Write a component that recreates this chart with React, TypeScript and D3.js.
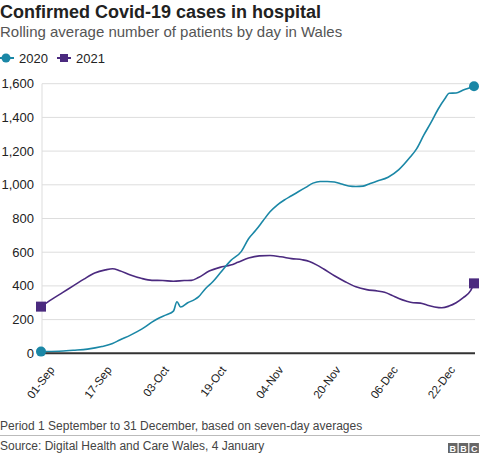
import React from "react";
import * as d3 from "d3";

// Days since 1 September 2020 and rolling averages
const teal2020Days = [0, 5, 9, 13, 17, 20, 22, 25, 27, 29, 31, 33, 35, 37, 38, 39, 41, 43, 44, 46, 48, 50, 53, 56, 58, 60, 62, 64, 66, 68, 70, 72, 74, 76, 78, 80, 82, 84, 86, 88, 90, 92, 94, 97, 100, 103, 105, 107, 109, 111, 113, 114, 116, 118, 121];
const teal2020Values = [10, 12, 18, 25, 40, 58, 79, 108, 130, 155, 185, 210, 228, 250, 306, 275, 300, 320, 335, 385, 425, 475, 550, 605, 680, 730, 785, 840, 880, 910, 935, 960, 985, 1010, 1020, 1020, 1017, 1005, 993, 990, 992, 1008, 1022, 1045, 1090, 1160, 1215, 1296, 1370, 1450, 1515, 1543, 1545, 1562, 1585];

const purple2021Days = [0, 3, 6, 9, 12, 15, 18, 20, 22, 25, 28, 31, 34, 37, 40, 42, 44, 47, 50, 53, 55, 58, 61, 64, 67, 70, 73, 75, 77, 79, 82, 85, 88, 91, 94, 96, 98, 100, 102, 104, 106, 108, 110, 112, 114, 116, 118, 120, 121];
const purple2021Values = [277, 320, 360, 400, 440, 476, 495, 502, 490, 465, 445, 433, 432, 428, 432, 433, 450, 488, 510, 524, 540, 565, 578, 580, 573, 562, 555, 545, 525, 500, 460, 425, 395, 378, 370, 362, 345, 325, 310, 300, 298, 285, 275, 270, 280, 300, 330, 370, 415];

const yTicks = [0, 200, 400, 600, 800, 1000, 1200, 1400, 1600];
const xTickDays = [0, 16, 32, 48, 64, 80, 96, 112];

const legendLabels = ["2020", "2021"];
const TEAL = "#1a87a6";
const PURPLE = "#4b2a7f";
const FONT = "'Liberation Sans', Arial, Helvetica, sans-serif";

const start = new Date(2020, 8, 1);
const toDate = (d: number) => d3.timeDay.offset(start, d);

export default function App() {
  const W = 480, H = 456;
  const x = d3.scaleTime().domain([start, toDate(121)]).range([41, 474]);
  const y = d3.scaleLinear().domain([0, 1600]).range([353.3, 83.7]);
  const fmtY = d3.format(",");
  const fmtX = d3.timeFormat("%d-%b");

  const line = d3
    .line<[number, number]>()
    .x((p) => x(toDate(p[0])))
    .y((p) => y(p[1]))
    .curve(d3.curveMonotoneX);

  const teal = teal2020Days.map((d, i) => [d, teal2020Values[i]] as [number, number]);
  const purple = purple2021Days.map((d, i) => [d, purple2021Values[i]] as [number, number]);
  const tFirst = teal[0], tLast = teal[teal.length - 1];
  const pFirst = purple[0], pLast = purple[purple.length - 1];

  return (
    <svg width={W} height={H} style={{ position: "absolute", left: 0, top: 0, background: "#fff" }} fontFamily={FONT}>
      <rect width={W} height={H} fill="#fff" />
      <text x={0} y={18} fontSize={18} fontWeight="bold" fill="#222">Confirmed Covid-19 cases in hospital</text>
      <text x={0} y={37} fontSize={15} fill="#555">Rolling average number of patients by day in Wales</text>

      {/* legend */}
      <g>
        <line x1={0} x2={14} y1={58} y2={58} stroke={TEAL} strokeWidth={2} />
        <circle cx={6} cy={58} r={4.5} fill={TEAL} />
        <text x={19} y={63} fontSize={13} fill="#222">{legendLabels[0]}</text>
        <line x1={57} x2={71} y1={58} y2={58} stroke={PURPLE} strokeWidth={2} />
        <rect x={60} y={54} width={8} height={8} fill={PURPLE} />
        <text x={76} y={63} fontSize={13} fill="#222">{legendLabels[1]}</text>
      </g>

      {/* grid */}
      {yTicks.map((t) => (
        <g key={t}>
          {t > 0 && <line x1={42} x2={475} y1={y(t)} y2={y(t)} stroke="#dddddd" strokeWidth={1} />}
          <text x={34} y={y(t) + 4.5} fontSize={13} textAnchor="end" fill="#222">{fmtY(t)}</text>
        </g>
      ))}
      <line x1={42} x2={42} y1={y(1600)} y2={y(0)} stroke="#dddddd" strokeWidth={1} />

      {/* lines */}
      <path d={line(purple) || ""} fill="none" stroke={PURPLE} strokeWidth={1.6} />
      <path d={line(teal) || ""} fill="none" stroke={TEAL} strokeWidth={1.6} />

      {/* axis */}
      <line x1={41} x2={475} y1={y(0)} y2={y(0)} stroke="#333" strokeWidth={2} />

      {/* markers */}
      <circle cx={x(toDate(tFirst[0]))} cy={y(tFirst[1])} r={5} fill={TEAL} />
      <circle cx={x(toDate(tLast[0]))} cy={y(tLast[1])} r={5} fill={TEAL} />
      <rect x={x(toDate(pFirst[0])) - 5} y={y(pFirst[1]) - 5} width={10} height={10} fill={PURPLE} />
      <rect x={x(toDate(pLast[0])) - 5} y={y(pLast[1]) - 5} width={10} height={10} fill={PURPLE} />

      {/* x ticks */}
      {xTickDays.map((d) => {
        const px = x(toDate(d));
        return (
          <text key={d} transform={`translate(${px + 14},${370}) rotate(-53)`} fontSize={11.5} textAnchor="end" fill="#222">
            {fmtX(toDate(d))}
          </text>
        );
      })}

      {/* footer */}
      <text x={0} y={430} fontSize={12} fill="#444">Period 1 September to 31 December, based on seven-day averages</text>
      <line x1={0} x2={480} y1={435.5} y2={435.5} stroke="#bbb" strokeWidth={1} />
      <text x={0} y={450} fontSize={12} fill="#444">Source: Digital Health and Care Wales, 4 January</text>
      <g>
        {["B", "B", "C"].map((c, i) => (
          <g key={i}>
            <rect x={448 + i * 10.7} y={443} width={9.5} height={10} fill="#666" />
            <text x={448 + i * 10.7 + 4.75} y={451.5} fontSize={9} fontWeight="bold" textAnchor="middle" fill="#fff">{c}</text>
          </g>
        ))}
      </g>
    </svg>
  );
}
